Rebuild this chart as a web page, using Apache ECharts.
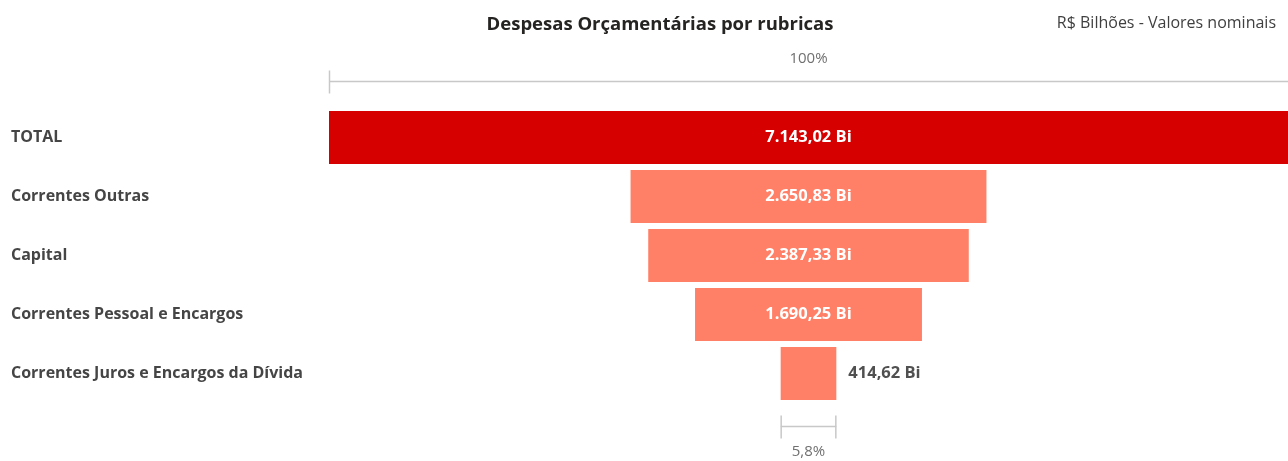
<!DOCTYPE html>
<html>
<head>
<meta charset="utf-8">
<script src="https://cdn.jsdelivr.net/npm/echarts@6/dist/echarts.min.js"></script>
<style>
  html, body { margin: 0; padding: 0; background: #fff; }
  #main { width: 1288px; height: 461px; }
</style>
</head>
<body>
<div id="main"></div>
<script>
var categories = ['TOTAL', 'Correntes Outras', 'Capital', 'Correntes Pessoal e Encargos', 'Correntes Juros e Encargos da Dívida'];
var values = [7143.02, 2650.83, 2387.33, 1690.25, 414.62];
var colors = ['#D70000', '#FF8066', '#FF8066', '#FF8066', '#FF8066'];

var FONT = '"Open Sans", "Noto Sans", sans-serif';
var total = values[0];

function fmt(v) {
    var parts = v.toFixed(2).split('.');
    return parts[0].replace(/\B(?=(\d{3})+(?!\d))/g, '.') + ',' + parts[1] + ' Bi';
}

// transparent spacer so every bar sits centred like a funnel
var offsets = values.map(function (v) { return (total - v) / 2; });

var chart = echarts.init(document.getElementById('main'));

var option = {
    animation: false,
    title: [{
        text: 'Despesas Orçamentárias por rubricas',
        left: 655, top: 10, textAlign: 'center',
        textStyle: { fontFamily: FONT, fontSize: 18.5, fontWeight: 'bold', color: '#252423' }
    }, {
        text: 'R$ Bilhões - Valores nominais',
        right: 7, top: 10,
        textStyle: { fontFamily: FONT, fontSize: 16, fontWeight: 'normal', color: '#404040' }
    }],
    grid: { left: 329, right: 0, top: 108, height: 295 },
    xAxis: {
        type: 'value', min: 0, max: total, show: false
    },
    yAxis: {
        type: 'category', data: categories, inverse: true,
        axisLine: { show: false }, axisTick: { show: false },
        axisLabel: {
            align: 'left', margin: 318,
            fontFamily: FONT, fontSize: 16, fontWeight: 'bold', color: '#454545'
        }
    },
    series: [{
        type: 'bar', stack: 'f', barWidth: 53, silent: true,
        itemStyle: { color: 'transparent' },
        data: offsets
    }, {
        type: 'bar', stack: 'f', barWidth: 53,
        data: values.map(function (v, i) {
            var small = v / total < 0.1;
            return {
                value: v,
                itemStyle: { color: colors[i] },
                label: {
                    show: true,
                    position: small ? 'right' : 'inside',
                    distance: 12,
                    color: small ? '#505050' : '#ffffff'
                }
            };
        }),
        label: {
            fontFamily: FONT, fontSize: 16.5, fontWeight: 'bold',
            formatter: function (p) { return fmt(p.value); }
        }
    }]
};
chart.setOption(option);

// percentage brackets above the first bar and below the last one
function bracket(idx, yPix, labelY, rightTick) {
    var x0 = chart.convertToPixel({ gridIndex: 0 }, [offsets[idx], 0])[0];
    var x1 = chart.convertToPixel({ gridIndex: 0 }, [offsets[idx] + values[idx], 0])[0];
    var pct = (values[idx] / total * 100);
    var txt = (idx === 0 ? pct.toFixed(0) : pct.toFixed(1).replace('.', ',')) + '%';
    var line = { stroke: '#c8c8c8', lineWidth: 1.5 };
    var els = [
        { type: 'line', shape: { x1: x0, y1: yPix, x2: x1, y2: yPix }, style: line },
        { type: 'line', shape: { x1: x0 + 0.5, y1: yPix - 11, x2: x0 + 0.5, y2: yPix + 12 }, style: line },
        {
            type: 'text', x: (x0 + x1) / 2, y: labelY,
            style: { text: txt, fill: '#707070', font: '15px ' + FONT, textAlign: 'center', textVerticalAlign: 'middle' }
        }
    ];
    if (rightTick)
        els.push({ type: 'line', shape: { x1: x1 - 0.5, y1: yPix - 11, x2: x1 - 0.5, y2: yPix + 12 }, style: line });
    return els;
}

chart.setOption({
    graphic: bracket(0, 81.5, 59, false).concat(bracket(values.length - 1, 426.5, 452, true))
});
</script>
</body>
</html>
